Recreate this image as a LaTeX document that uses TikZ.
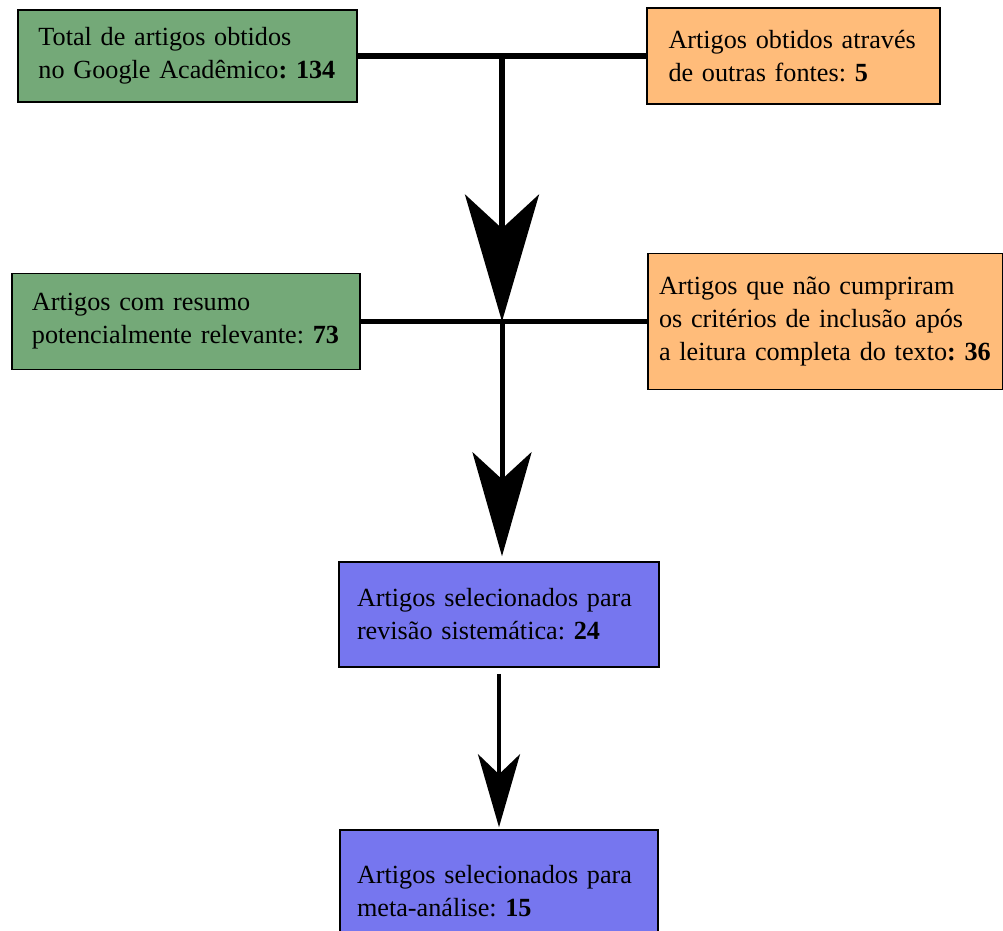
\documentclass[tikz,border=0pt]{standalone}
\usepackage{fontspec}
\setmainfont{Liberation Serif}
\usetikzlibrary{arrows.meta}
\definecolor{verde}{RGB}{116,169,120}
\definecolor{laranja}{RGB}{255,188,122}
\definecolor{azul}{RGB}{118,118,239}
\tikzset{
    caixa/.style = {draw = black, line width = .75pt, align = left, inner sep = 0pt,
        font = \fontsize{13.1}{16.5}\selectfont\frenchspacing},
    linha/.style = {line width = 2.75pt}
}

\begin{document}
\begin{tikzpicture}[x = .5pt, y = -.5pt]
    \useasboundingbox (0,0) rectangle (1003,931);
    \node[caixa, fill = verde, minimum width = 169.5pt, minimum height = 46pt, text width = 149pt] (total) at (187.5,56)
        {Total de artigos obtidos\\no Google Acadêmico\textbf{: 134}};
    \node[caixa, fill = laranja, minimum width = 146.5pt, minimum height = 48pt, text width = 125pt] (outras) at (793.5,56)
        {Artigos obtidos através\\de outras fontes: \textbf{5}};
    \node[caixa, fill = verde, minimum width = 174pt, minimum height = 48pt, text width = 154pt] (resumo) at (186,321.5)
        {Artigos com resumo\\potencialmente relevante: \textbf{73}};
    \node[caixa, fill = laranja, minimum width = 177.5pt, minimum height = 68pt, text width = 166.5pt] (excluidos) at (825.5,321.5)
        {Artigos que não cumpriram\\os critérios de inclusão após\\a leitura completa do texto\textbf{: 36}};
    \node[caixa, fill = azul, minimum width = 160pt, minimum height = 52.5pt, text width = 142pt] (revisao) at (499,614.5)
        {Artigos selecionados para\\revisão sistemática: \textbf{24}};
    \node[caixa, fill = azul, minimum width = 159pt, minimum height = 61pt, text width = 142pt] (meta) at (499,891)
        {Artigos selecionados para\\meta-análise: \textbf{15}};
    \coordinate (j1) at (502,56);
    \coordinate (j2) at (502,321.5);
    \draw[linha] (total) -- (outras);
    \draw[linha] (resumo) -- (excluidos);
    \draw[linha, -{Stealth[length = 63.5pt, width = 37pt, inset = 17pt]}] (j1) -- (j2);
    \draw[line width = 2.5pt, shorten > = 2.5pt, -{Stealth[length = 52pt, width = 29.5pt, inset = 13.5pt]}] (j2) -- (j2 |- revisao.north);
    \draw[line width = 2pt, shorten < = 3pt, shorten > = 1pt, -{Stealth[length = 36.5pt, width = 21pt, inset = 10pt]}] (revisao) -- (meta);
%% fluxo de selecao dos artigos
\end{tikzpicture}
\end{document}
